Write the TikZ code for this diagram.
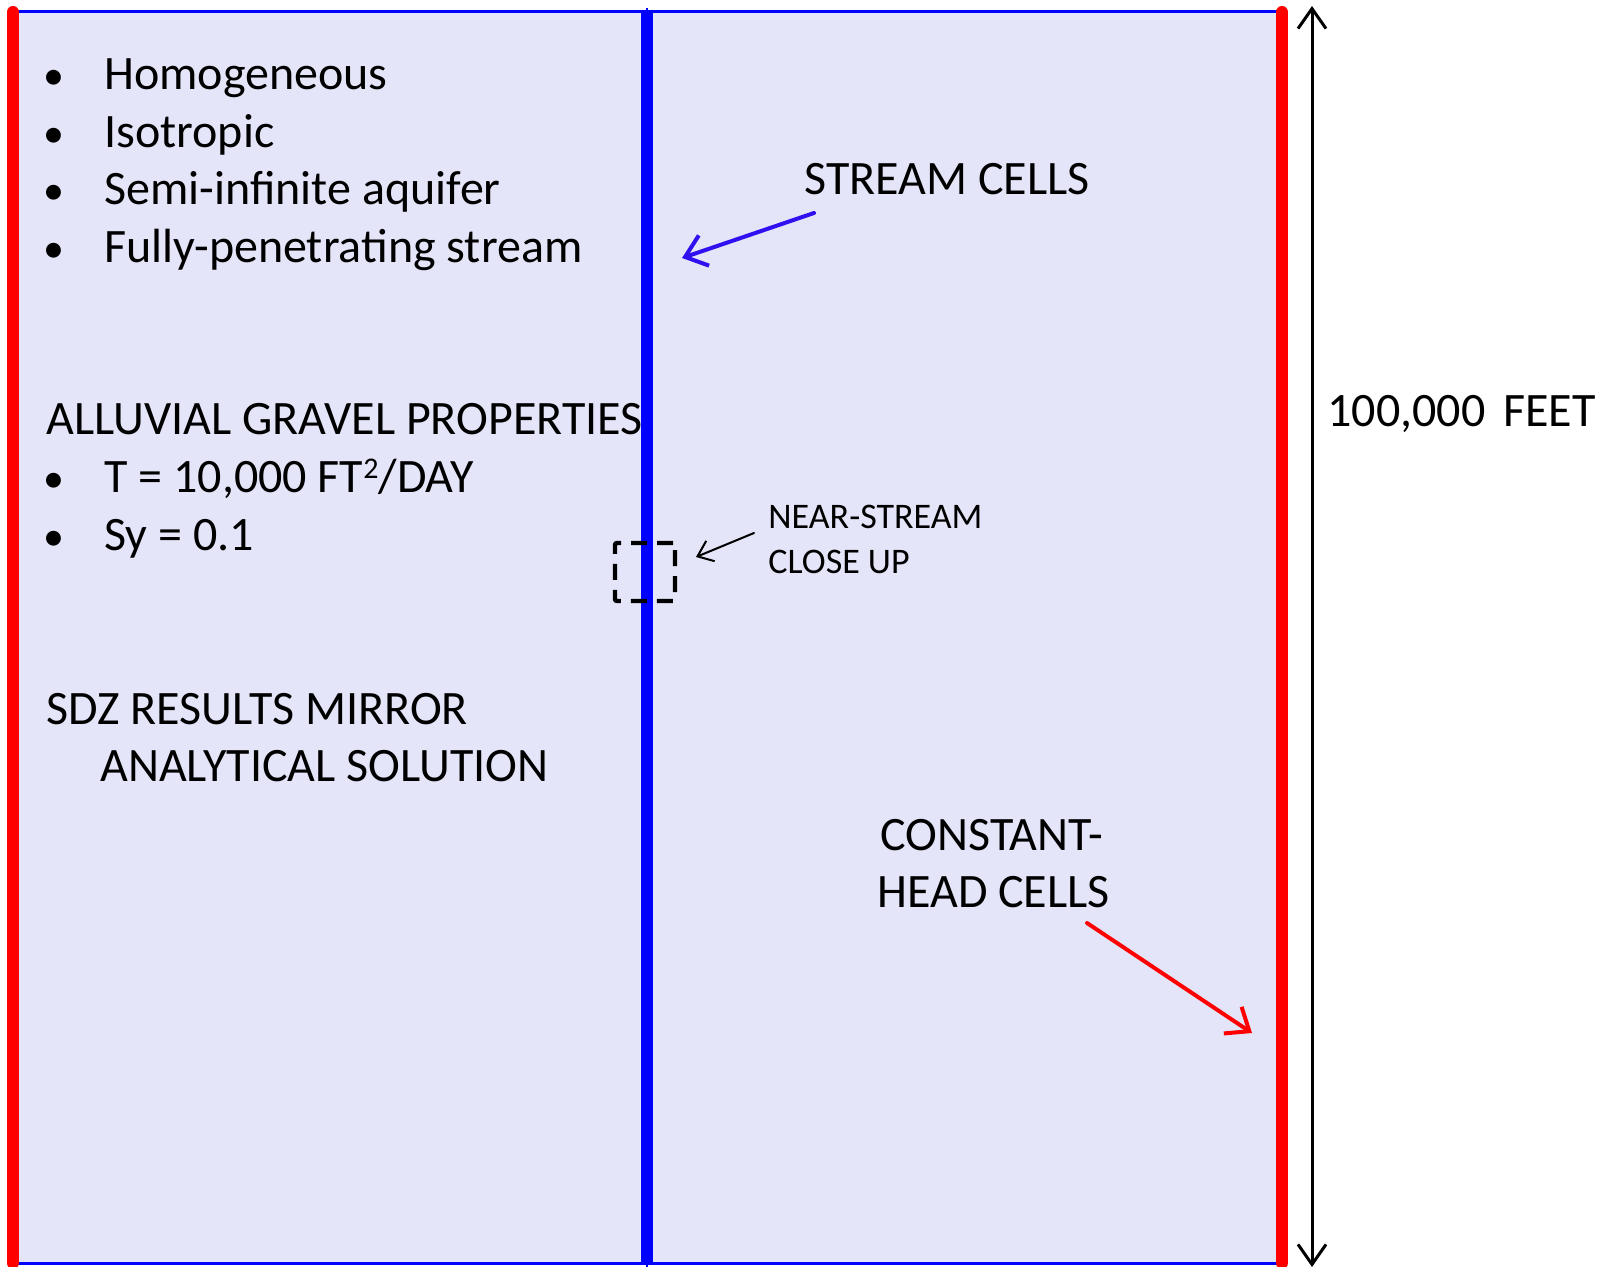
\documentclass[tikz,border=0pt]{standalone}
\usepackage{fontspec}
\setmainfont{Carlito}
\usetikzlibrary{arrows.meta}
\definecolor{bgfill}{RGB}{228,229,248}
\definecolor{streamblue}{RGB}{0,0,255}
\definecolor{arrowblue}{RGB}{48,16,240}
\definecolor{chred}{RGB}{255,0,0}
\tikzset{
  big/.style={font=\fontsize{24}{28}\selectfont, inner sep=0pt, anchor=base west},
  small/.style={font=\fontsize{18}{21}\selectfont, inner sep=0pt, anchor=base west},
  bullet/.style={font=\fontsize{21}{25}\selectfont, inner sep=0pt, anchor=base},
  barb/.style={-{Straight Barb[length=10pt,width=16pt,line width=2pt]}, line cap=round},
}
\begin{document}
\begin{tikzpicture}[x=0.5pt,y=-0.5pt]
\useasboundingbox (0,0) rectangle (1600,1267);
% domain
\draw[fill=bgfill, draw=streamblue, line width=1.5pt] (13,12) rectangle (1282,1263);
% constant-head cells
\draw[chred, line width=6pt, line cap=round] (13,12) -- (13,1263);
\draw[chred, line width=6pt, line cap=round] (1282,12) -- (1282,1263);
% stream
\draw[streamblue, line width=0.8pt] (647,8) -- (647,1267);
\draw[streamblue, line width=6pt] (647,12) -- (647,1263);
% dimension arrow
\coordinate (dimtop) at (1312,6);
\coordinate (dimbot) at (1312,1267);
\draw[line width=1.5pt, {Straight Barb[length=10pt,width=14pt,line width=1.5pt]}-{Straight Barb[length=10pt,width=14pt,line width=1.5pt]}] (dimtop) -- (dimbot);
\node[big] (dim) at (1327,426) {100,000\hspace{9pt}FEET};
% bullets
\node[bullet] (b1) at (54,90) {•};
\node[big] (t1) at (104,90) {Homogeneous};
\node[bullet] (b2) at (54,148) {•};
\node[big] (t2) at (104,148) {Isotropic};
\node[bullet] (b3) at (54,205) {•};
\node[big] (t3) at (104,205) {Semi-infinite aquifer};
\node[bullet] (b4) at (54,263) {•};
\node[big] (t4) at (104,263) {Fully-penetrating stream};
\node[big] (alluv) at (46,435) {ALLUVIAL GRAVEL PROPERTIES};
\node[bullet] (b5) at (54,492) {•};
\node[big] (t5) at (104,492) {T = 10,000 FT\raisebox{7pt}{\fontsize{15}{15}\selectfont 2}/DAY};
\node[bullet] (b6) at (54,550) {•};
\node[big] (t6) at (104,550) {Sy = 0.1};
\node[big] (sdz1) at (46,724) {SDZ RESULTS MIRROR};
\node[big] (sdz2) at (100,781) {ANALYTICAL SOLUTION};
% stream cells label
\node[big] (stream) at (804,195) {STREAM CELLS};
\coordinate (sa) at (814,213);
\coordinate (sb) at (682,258);
\draw[arrowblue, line width=2pt, barb] (sa) -- (sb);
% near-stream close up
\node[draw, line width=2.2pt, dash pattern=on 8pt off 5pt, rounded corners=1pt, minimum width=30pt, minimum height=29pt, inner sep=0pt] (box) at (645,572) {};
\node[small] (near1) at (768,528) {NEAR-STREAM};
\node[small] (near2) at (768,573) {CLOSE UP};
\coordinate (na) at (754,533);
\coordinate (nb) at (696,557);
\draw[black, line width=1pt, -{Straight Barb[length=7pt,width=11pt,line width=1pt]}, line cap=round] (na) -- (nb);
% constant head label
\node[big] (ch1) at (880,850) {CONSTANT-};
\node[big] (ch2) at (877,907) {HEAD CELLS};
\coordinate (ca) at (1087,923);
\coordinate (cb) at (1252,1033);
\draw[chred, line width=2pt, barb] (ca) -- (cb);
\end{tikzpicture}
\end{document}
